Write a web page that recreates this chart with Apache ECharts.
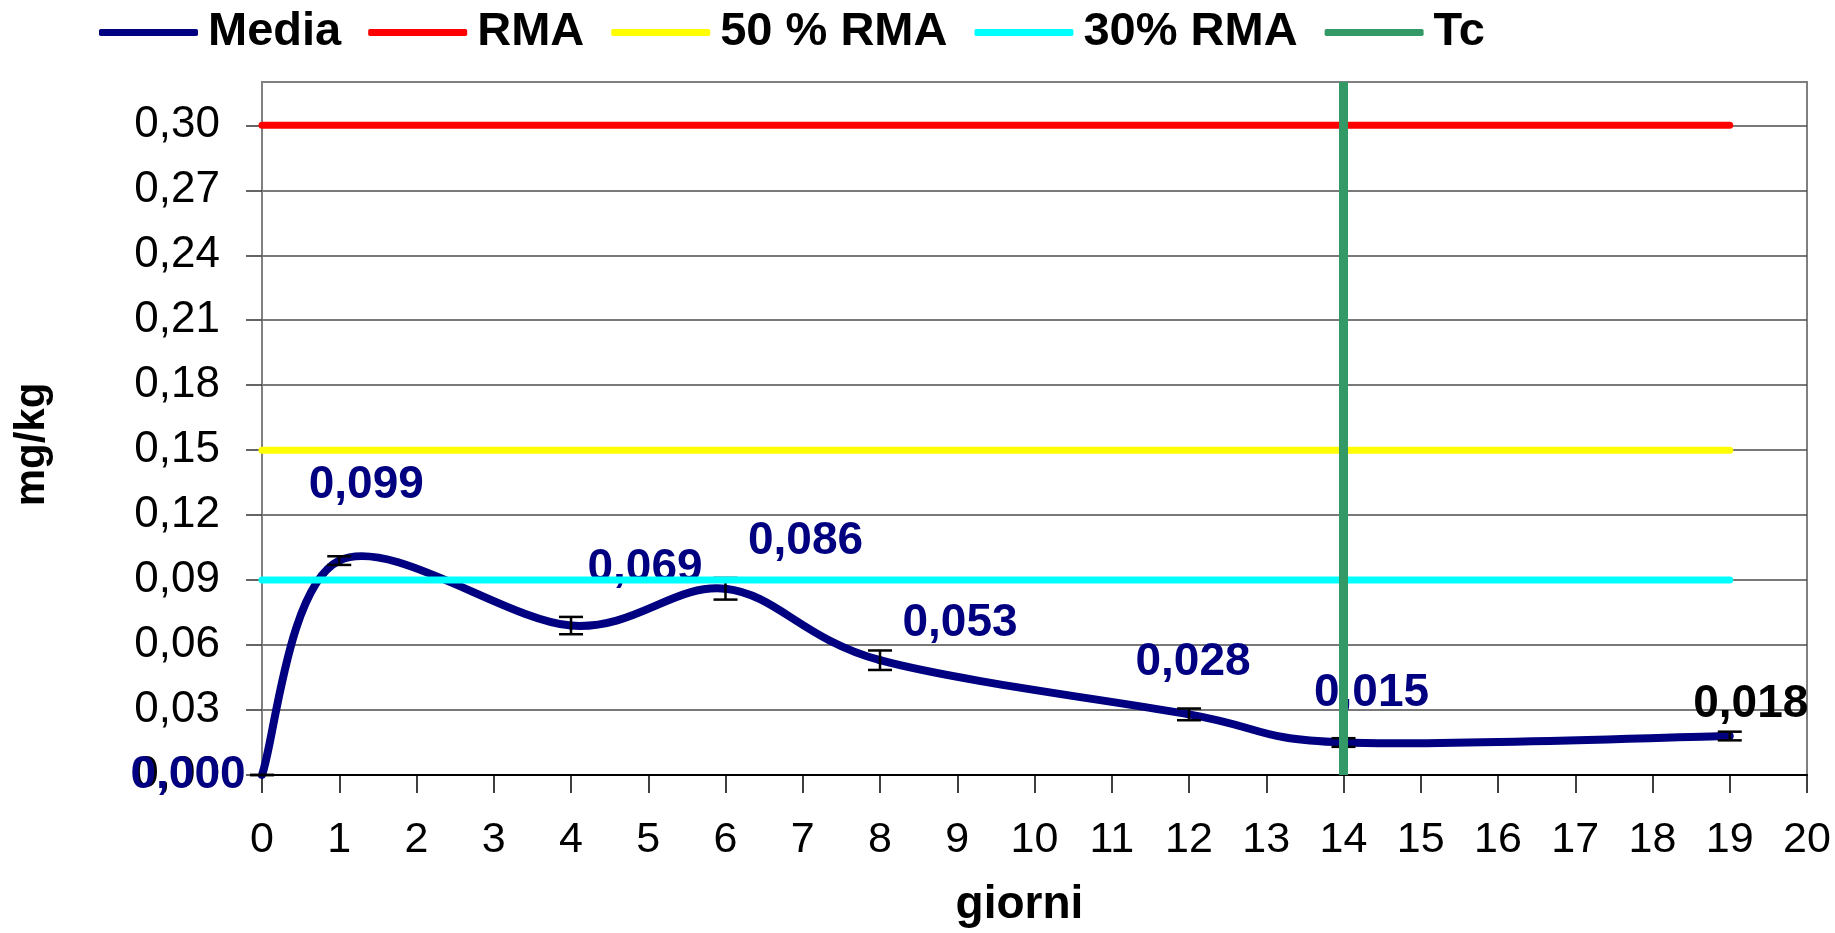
<!DOCTYPE html>
<html>
<head>
<meta charset="utf-8">
<script src="https://cdn.jsdelivr.net/npm/echarts@6/dist/echarts.min.js"></script>
<style>
html,body{margin:0;padding:0;background:#ffffff;}
#chart{width:1835px;height:933px;}
</style>
</head>
<body>
<div id="chart"></div>
<script>
// ---- data ----
const days = [0, 1, 4, 6, 8, 12, 14, 19];
const media = [0, 0.099, 0.069, 0.086, 0.053, 0.028, 0.015, 0.018];
const mediaErr = [0, 0.002, 0.004, 0.005, 0.0045, 0.0027, 0.002, 0.002];
const mediaLabels = ['0,000', '0,099', '0,069', '0,086', '0,053', '0,028', '0,015', '0,018'];
const rmaValue = 0.30;
const rma50Value = 0.15;
const rma30Value = 0.09;
const limitDays = [0, 19];
const tcDay = 14;
const xTicks = [0,1,2,3,4,5,6,7,8,9,10,11,12,13,14,15,16,17,18,19,20];
const yTicks = [0, 0.03, 0.06, 0.09, 0.12, 0.15, 0.18, 0.21, 0.24, 0.27, 0.30];
const yTickLabels = ['0,00','0,03','0,06','0,09','0,12','0,15','0,18','0,21','0,24','0,27','0,30'];
const yMin = 0, yMax = 0.32;

// ---- styling (label placement relative to each point) ----
const labelShift = [[-74, 0], [27, -75], [74, -57], [80, -47], [80, -37], [4, -52], [28, -49], [21, -32]];
const labelColors = ['#000080','#000080','#000080','#000080','#000080','#000080','#000080','#000000'];

const FONT = "'Liberation Sans', Arial, sans-serif";

const chart = echarts.init(document.getElementById('chart'), null, {renderer: 'canvas'});

const mediaData = days.map((d, i) => ({
  value: [d, media[i]],
  label: {formatter: mediaLabels[i], offset: labelShift[i], color: labelColors[i]}
}));
const curveData = days.map((d, i) => [d, media[i]]);
const errData = days.map((d, i) => [d, media[i], mediaErr[i]]);
const hLine = v => limitDays.map(d => [d, v]);

// smoothed (spreadsheet-style Bezier) segment between measured points
function renderCurveSegment(params, api) {
  const i = params.dataIndex;
  const n = days.length;
  if (i >= n - 1) return null;
  const P = k => {
    const j = Math.max(0, Math.min(n - 1, k));
    return api.coord([days[j], media[j]]);
  };
  const p0 = P(i - 1), p1 = P(i), p2 = P(i + 1), p3 = P(i + 2);
  const c1 = [p1[0] + (p2[0] - p0[0]) / 6, p1[1] + (p2[1] - p0[1]) / 6];
  const c2 = [p2[0] - (p3[0] - p1[0]) / 6, p2[1] - (p3[1] - p1[1]) / 6];
  return {
    type: 'bezierCurve',
    shape: {x1: p1[0], y1: p1[1], x2: p2[0], y2: p2[1], cpx1: c1[0], cpy1: c1[1], cpx2: c2[0], cpy2: c2[1]},
    style: {stroke: '#000080', lineWidth: 8, fill: null, lineCap: 'round', lineJoin: 'round'}
  };
}

const option = {
  animation: false,
  backgroundColor: '#ffffff',
  textStyle: {fontFamily: FONT},
  grid: {left: 262, right: 28, top: 82, bottom: 155, show: true, borderColor: '#808080', borderWidth: 2, backgroundColor: 'transparent'},
  legend: {
    left: 94, top: 4,
    itemWidth: 99, itemHeight: 7, itemGap: 27,
    icon: 'roundRect',
    textStyle: {fontSize: 47, fontWeight: 'bold', color: '#000', fontFamily: FONT, padding: [0, 0, 0, 5]},
    data: ['Media', 'RMA', '50 % RMA', '30% RMA', 'Tc']
  },
  xAxis: {
    type: 'value', min: xTicks[0], max: xTicks[xTicks.length - 1], interval: 1,
    axisLine: {show: true, lineStyle: {color: '#000', width: 2}},
    axisTick: {show: true, inside: false, length: 18, lineStyle: {color: '#000', width: 1.5}},
    splitLine: {show: false},
    axisLabel: {fontSize: 43, color: '#000', fontFamily: FONT, margin: 44},
    name: 'giorni', nameLocation: 'middle', nameGap: 107,
    nameTextStyle: {fontSize: 46, fontWeight: 'bold', color: '#000', fontFamily: FONT, padding: [0, 30, 0, 0]}
  },
  yAxis: {
    type: 'value', min: yMin, max: yMax, interval: 0.03,
    axisLine: {show: true, lineStyle: {color: '#808080', width: 2}},
    axisTick: {show: true, inside: false, length: 16, lineStyle: {color: '#333', width: 1.5}, customValues: yTicks},
    splitLine: {show: true, lineStyle: {color: '#4d4d4d', width: 1.5}},
    axisLabel: {
      fontSize: 44, color: '#000', fontFamily: FONT, margin: 42,
      customValues: yTicks,
      formatter: v => {
        const idx = yTicks.findIndex(t => Math.abs(t - v) < 1e-6);
        return idx >= 0 ? yTickLabels[idx] : '';
      }
    },
    name: 'mg/kg', nameLocation: 'middle', nameGap: 209,
    nameTextStyle: {fontSize: 42, fontWeight: 'bold', color: '#000', fontFamily: FONT, padding: [0, 32, 0, 0]}
  },
  series: [
    {
      name: 'Media', type: 'line', data: mediaData,
      symbol: 'circle', symbolSize: 1, showSymbol: true,
      itemStyle: {color: '#000080'},
      lineStyle: {color: '#000080', width: 8, opacity: 0},
      label: {show: true, position: 'inside', fontSize: 46, fontWeight: 'bold', fontFamily: FONT},
      emphasis: {disabled: true}, z: 3
    },
    {
      name: 'Media (curva)', type: 'custom', data: curveData, z: 3, clip: false,
      renderItem: renderCurveSegment
    },
    {
      name: 'errori', type: 'custom', data: errData, z: 4, clip: false,
      renderItem: (params, api) => {
        const x = api.value(0), y = api.value(1), e = api.value(2);
        const top = api.coord([x, y + e]);
        const bot = api.coord([x, y - e]);
        const hw = 12;
        const st = {stroke: '#000', lineWidth: 2.5};
        return {type: 'group', children: [
          {type: 'line', shape: {x1: top[0], y1: top[1], x2: bot[0], y2: bot[1]}, style: st},
          {type: 'line', shape: {x1: top[0] - hw, y1: top[1], x2: top[0] + hw, y2: top[1]}, style: st},
          {type: 'line', shape: {x1: bot[0] - hw, y1: bot[1], x2: bot[0] + hw, y2: bot[1]}, style: st}
        ]};
      }
    },
    {
      name: 'RMA', type: 'line', data: hLine(rmaValue), symbol: 'none',
      itemStyle: {color: '#ff0000'}, lineStyle: {color: '#ff0000', width: 7, cap: 'round'}, z: 2
    },
    {
      name: '50 % RMA', type: 'line', data: hLine(rma50Value), symbol: 'none',
      itemStyle: {color: '#ffff00'}, lineStyle: {color: '#ffff00', width: 7, cap: 'round'}, z: 2
    },
    {
      name: '30% RMA', type: 'line', data: hLine(rma30Value), symbol: 'none',
      itemStyle: {color: '#00ffff'}, lineStyle: {color: '#00ffff', width: 7, cap: 'round'}, z: 5
    },
    {
      name: 'Tc', type: 'line', data: [[tcDay, yMin], [tcDay, yMax]], symbol: 'none',
      itemStyle: {color: '#339966'}, lineStyle: {color: '#339966', width: 9}, z: 6
    }
  ]
};
chart.setOption(option);
</script>
</body>
</html>
